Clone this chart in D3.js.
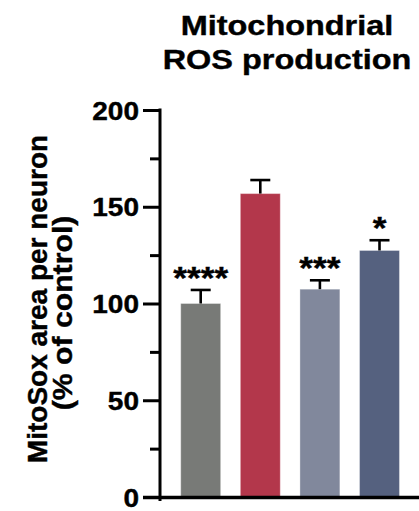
<!DOCTYPE html>
<html>
<head>
<meta charset="utf-8">
<script src="https://cdn.jsdelivr.net/npm/d3@7"></script>
<style>
  html, body { margin: 0; padding: 0; background: #fff; }
  svg { display: block; }
  text { font-family: "Liberation Sans", Arial, Helvetica, sans-serif; font-weight: bold; fill: #000; stroke: #000; stroke-width: 0.4px; }
</style>
</head>
<body>
<svg id="chart" width="419" height="511"></svg>
<script>
// Mitochondrial ROS (MitoSox area per neuron, % of control)
const groups = ["Control", "Condition A", "Condition B", "Condition C"];
const means = [100, 156.8, 107.4, 127.4];
const sem = [7, 7, 4.6, 5.3];
const stars = ["****", "", "***", "*"];
const colors = ["#787a77", "#b3374b", "#81889c", "#55617f"];
const majorTicks = [0, 50, 100, 150, 200];
const minorTicks = [25, 75, 125, 175];
const titleLines = ["Mitochondrial", "ROS production"];
const yLabelLines = ["MitoSox area per neuron", "(% of control)"];

const svg = d3.select("#chart");
const axisX = 160;       // y-axis position
const stretch = 1.12;    // horizontal stretch of tick labels

const y = d3.scaleLinear().domain([0, 200]).range([497, 110]);
const x = d3.scaleBand().domain(groups).range([170.9, 409.3])
  .paddingInner(0.33).paddingOuter(0.165);

// Title
const titleBase = [34.5, 68.5];
titleLines.forEach((t, i) => {
  svg.append("g")
    .attr("transform", `translate(287,${titleBase[i]}) scale(1.18,1)`)
    .append("text")
    .attr("text-anchor", "middle")
    .attr("font-size", 27.5)
    .text(t);
});

// Y-axis title (two rotated lines)
const yLabelX = [47, 72];
const yLabelCy = [299, 313];
const yLabelScale = [1, 1.08];
yLabelLines.forEach((t, i) => {
  svg.append("text")
    .attr("transform", `translate(${yLabelX[i]},${yLabelCy[i]}) rotate(-90) scale(${yLabelScale[i]},1)`)
    .attr("text-anchor", "middle")
    .attr("font-size", 28)
    .text(t);
});

// Bars
svg.append("g").selectAll("rect")
  .data(groups)
  .join("rect")
  .attr("x", d => x(d))
  .attr("y", (d, i) => y(means[i]))
  .attr("width", x.bandwidth())
  .attr("height", (d, i) => y(0) - y(means[i]))
  .attr("fill", (d, i) => colors[i])
  .attr("stroke", "rgba(255,255,255,0.35)")
  .attr("stroke-width", 1);

// Error bars (upper SEM)
const capHalf = 10;
const eb = svg.append("g").attr("stroke", "#000").attr("stroke-width", 2.6);
groups.forEach((g, i) => {
  const cx = x(g) + x.bandwidth() / 2;
  eb.append("line")
    .attr("x1", cx).attr("x2", cx)
    .attr("y1", y(means[i])).attr("y2", y(means[i] + sem[i]));
  eb.append("line")
    .attr("x1", cx - capHalf).attr("x2", cx + capHalf)
    .attr("y1", y(means[i] + sem[i])).attr("y2", y(means[i] + sem[i]));
});

// Significance markers
groups.forEach((g, i) => {
  if (!stars[i]) return;
  const cx = x(g) + x.bandwidth() / 2;
  svg.append("g")
    .attr("transform", `translate(${cx},${y(means[i] + sem[i]) - 1}) scale(1.1,1)`)
    .append("text")
    .attr("text-anchor", "middle")
    .attr("font-size", 32)
    .text(stars[i]);
});

// Y axis: major ticks with labels
const yAxisMajor = d3.axisLeft(y).tickValues(majorTicks).tickSize(17).tickSizeOuter(0).tickFormat(d3.format("d"));
const gMajor = svg.append("g").attr("transform", `translate(${axisX},0)`).call(yAxisMajor);
gMajor.select(".domain").remove();
gMajor.selectAll(".tick line").attr("stroke", "#000").attr("stroke-width", 3);
gMajor.selectAll(".tick text")
  .attr("x", null).attr("dy", null)
  .attr("transform", `translate(-21,9) scale(${stretch},1)`)
  .attr("font-size", 25)
  .attr("font-family", null)
  .attr("fill", null)
  .attr("text-anchor", "end");

// Y axis: minor ticks
const yAxisMinor = d3.axisLeft(y).tickValues(minorTicks).tickSize(10).tickSizeOuter(0).tickFormat("");
const gMinor = svg.append("g").attr("transform", `translate(${axisX},0)`).call(yAxisMinor);
gMinor.select(".domain").remove();
gMinor.selectAll(".tick line").attr("stroke", "#000").attr("stroke-width", 3);

// Axis lines
svg.append("line")
  .attr("x1", axisX).attr("x2", axisX)
  .attr("y1", y(200) - 1.5).attr("y2", y(0) + 4)
  .attr("stroke", "#000").attr("stroke-width", 3);
svg.append("line")
  .attr("x1", axisX - 17).attr("x2", 419)
  .attr("y1", y(0) + 0.5).attr("y2", y(0) + 0.5)
  .attr("stroke", "#000").attr("stroke-width", 3.5);
</script>
</body>
</html>
